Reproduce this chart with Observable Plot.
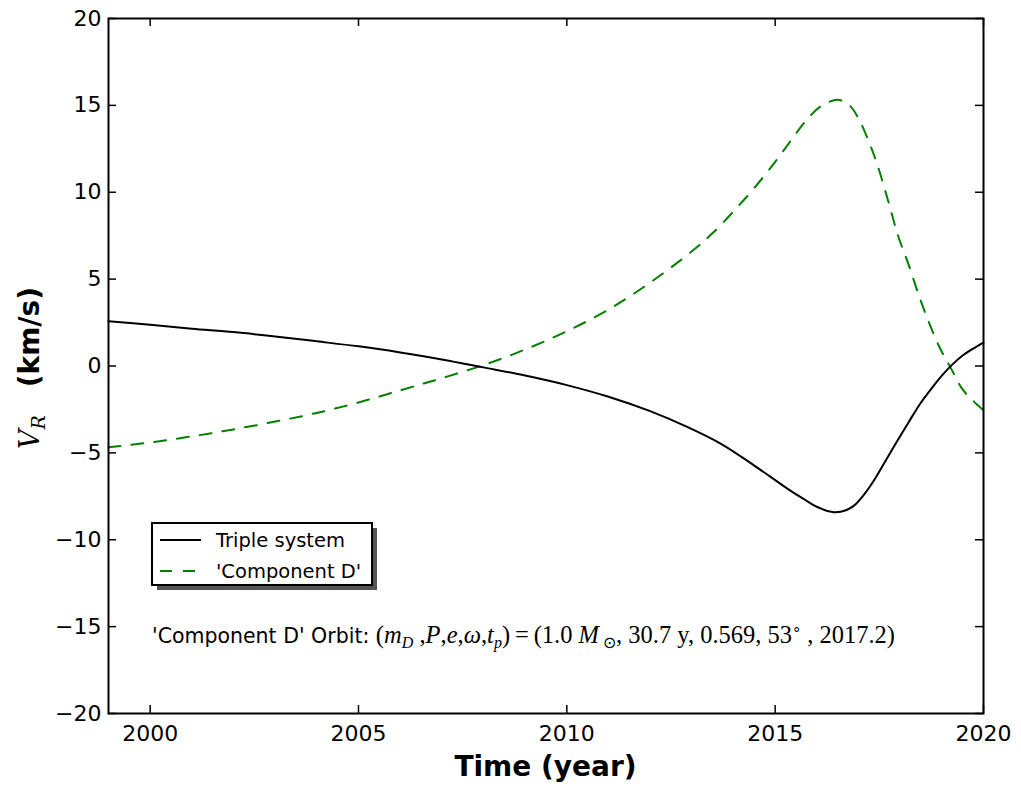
<!DOCTYPE html>
<html>
<head>
<meta charset="utf-8">
<script src="https://cdn.jsdelivr.net/npm/d3@7"></script>
<script src="https://cdn.jsdelivr.net/npm/@observablehq/plot@0.6"></script>
<style>
  html, body { margin: 0; padding: 0; background: #fff; }
  #chart svg { display: block; }
</style>
</head>
<body>
<div id="chart"></div>
<script>
// ---- data ----
const tripleYears = [1999, 2000, 2001, 2002, 2003, 2004, 2005, 2006, 2007, 2008, 2009, 2010, 2011, 2012, 2012.9, 2013.7, 2014.5, 2015.3, 2015.7, 2016.0, 2016.2, 2016.45, 2016.7, 2016.9, 2017.1, 2017.37, 2017.77, 2018.2, 2018.5, 2018.75, 2019, 2019.25, 2019.5, 2019.75, 2020];
const tripleV = [2.58, 2.38, 2.15, 1.95, 1.7, 1.42, 1.13, 0.78, 0.38, -0.08, -0.55, -1.1, -1.77, -2.6, -3.52, -4.48, -5.73, -7.07, -7.68, -8.1, -8.3, -8.42, -8.3, -8.02, -7.5, -6.59, -4.96, -3.25, -2.1, -1.3, -0.55, 0.08, 0.6, 1.0, 1.35];

const compDYears = [1999, 2000, 2001, 2002, 2003, 2004, 2005, 2006, 2007, 2008, 2009, 2010, 2011, 2012, 2013, 2013.5, 2014, 2014.5, 2015, 2015.4, 2015.75, 2016.1, 2016.5, 2016.78, 2017, 2017.25, 2017.45, 2017.7, 2017.95, 2018.2, 2018.45, 2018.7, 2018.95, 2019.2, 2019.5, 2019.75, 2020];
const compDV = [-4.67, -4.4, -4.05, -3.65, -3.2, -2.7, -2.1, -1.4, -0.7, 0.05, 0.95, 2.0, 3.25, 4.8, 6.6, 7.65, 8.9, 10.25, 11.75, 13.05, 14.15, 14.95, 15.32, 15.0, 14.25, 12.9, 11.6, 9.6, 7.5, 5.85, 4.05, 2.45, 1.05, -0.05, -1.35, -2.0, -2.55];

const xTicks = [2000, 2005, 2010, 2015, 2020];
const yTicks = [-20, -15, -10, -5, 0, 5, 10, 15, 20];
const xDomain = [1999, 2020];
const yDomain = [-20, 20];

const seriesNames = ["Triple system", "'Component D'"];

// build tables
const triple = tripleYears.map((t, i) => ({t, v: tripleV[i]}));
const compD = compDYears.map((t, i) => ({t, v: compDV[i]}));

const W = 1021, H = 788;
const mL = 108, mR = 38, mT = 18, mB = 75;
const innerH = H - mT - mB, innerW = W - mL - mR;
const tickLen = 8;

const chart = Plot.plot({
  width: W, height: H,
  marginLeft: mL, marginRight: mR, marginTop: mT, marginBottom: mB,
  style: {fontFamily: "DejaVu Sans", fontSize: "22px", color: "#000", background: "#fff"},
  x: {domain: xDomain, label: null},
  y: {domain: yDomain, label: null},
  marks: [
    Plot.line(compD, {x: "t", y: "v", stroke: "#008000", strokeWidth: 2, strokeDasharray: "12,11", curve: "catmull-rom"}),
    Plot.line(triple, {x: "t", y: "v", stroke: "#000", strokeWidth: 2, curve: "catmull-rom"}),
    // inward ticks on all four sides
    Plot.tickX(xTicks, {x: d => d, insetTop: innerH - tickLen, stroke: "#000", strokeWidth: 1.5}),
    Plot.tickX(xTicks, {x: d => d, insetBottom: innerH - tickLen, stroke: "#000", strokeWidth: 1.5}),
    Plot.tickY(yTicks, {y: d => d, insetRight: innerW - tickLen, stroke: "#000", strokeWidth: 1.5}),
    Plot.tickY(yTicks, {y: d => d, insetLeft: innerW - tickLen, stroke: "#000", strokeWidth: 1.5}),
    Plot.axisX({ticks: xTicks, tickSize: 0, tickPadding: 12, tickFormat: d => String(d), label: null}),
    Plot.axisY({ticks: yTicks, tickSize: 0, tickPadding: 7, label: null}),
    Plot.frame({stroke: "#000", strokeWidth: 2})
  ]
});
document.getElementById("chart").appendChild(chart);

const svg = d3.select(chart);

// x label
svg.append("text")
  .attr("x", mL + innerW / 2).attr("y", 776)
  .attr("text-anchor", "middle")
  .attr("font-family", "DejaVu Sans").attr("font-weight", "bold").attr("font-size", 28)
  .attr("fill", "#000")
  .text("Time (year)");

// y label (rotated)
const yl = svg.append("text")
  .attr("transform", "translate(39,368) rotate(-90)")
  .attr("text-anchor", "middle")
  .attr("fill", "#000");
yl.append("tspan").attr("font-family", "DejaVu Serif").attr("font-style", "italic").attr("font-size", 27).text("V");
yl.append("tspan").attr("font-family", "DejaVu Serif").attr("font-style", "italic").attr("font-size", 19).attr("dy", 6).text("R");
yl.append("tspan").attr("font-family", "DejaVu Sans").attr("font-weight", "bold").attr("font-size", 28).attr("dy", -6).text("\u2003(km/s)");

// legend
const lg = svg.append("g").attr("text-anchor", "start");
lg.append("rect").attr("x", 157).attr("y", 528).attr("width", 220).attr("height", 62).attr("fill", "#555");
lg.append("rect").attr("x", 152).attr("y", 523).attr("width", 220).attr("height", 62).attr("fill", "#fff").attr("stroke", "#000").attr("stroke-width", 2);
lg.append("line").attr("x1", 160).attr("x2", 201).attr("y1", 540).attr("y2", 540).attr("stroke", "#000").attr("stroke-width", 2);
lg.append("line").attr("x1", 160).attr("x2", 201).attr("y1", 571).attr("y2", 571).attr("stroke", "#008000").attr("stroke-width", 2).attr("stroke-dasharray", "12,11");
lg.append("text").attr("x", 216).attr("y", 547).attr("font-family", "DejaVu Sans").attr("font-size", 19.5).attr("fill", "#000").text(seriesNames[0]);
lg.append("text").attr("x", 216).attr("y", 578).attr("font-family", "DejaVu Sans").attr("font-size", 19.5).attr("fill", "#000").text(seriesNames[1]);

// annotation
const an = svg.append("text").attr("x", 152).attr("y", 643).attr("text-anchor", "start").attr("fill", "#000");
an.append("tspan").attr("font-family", "DejaVu Sans").attr("font-size", 20.5).text("'Component D' Orbit: ");
const serif = (txt, opts = {}) => {
  const ts = an.append("tspan").attr("font-family", "Liberation Serif").attr("font-size", opts.size || 24.5);
  if (opts.italic) ts.attr("font-style", "italic");
  if (opts.dy) ts.attr("dy", opts.dy);
  ts.text(txt);
  return ts;
};
serif("(");
serif("m", {italic: true});
serif("D", {italic: true, size: 16, dy: 5});
serif(" ,", {dy: -5});
serif("P", {italic: true});
serif(",");
serif("e", {italic: true});
serif(",");
serif("ω", {italic: true});
serif(",");
serif("t", {italic: true});
serif("p", {italic: true, size: 16, dy: 5});
serif(")", {dy: -5});
serif("\u2009=\u2009(1.0 ");
serif("M", {italic: true});
serif(" ⊙", {size: 16, dy: 5});
serif(", 30.7 y, 0.569, 53", {dy: -5});
serif("∘", {size: 15, dy: -9});
serif(" , 2017.2)", {dy: 9});
</script>
</body>
</html>
